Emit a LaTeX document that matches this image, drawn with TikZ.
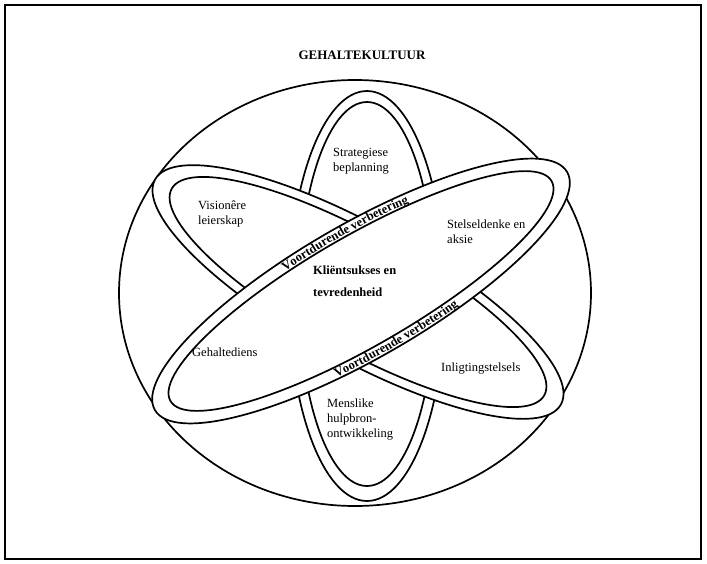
\documentclass[tikz,border=0pt]{standalone}
\usepackage{fontspec}
\setmainfont{Liberation Serif}
\usetikzlibrary{decorations.text}

\newcommand\labelfont{\fontsize{12.5}{15}\selectfont}
\newcommand\titlefont{\fontsize{13}{15}\selectfont\bfseries}
\newcommand\bandfont{\fontsize{12.6}{15}\selectfont\bfseries}

\tikzset{
  ring/.style={draw=black, line width=1.7pt, fill=white},
  frameline/.style={draw=black, line width=1.3pt},
  lbl/.style={font=\labelfont, align=left, inner sep=0pt, anchor=west},
}

\begin{document}
\begin{tikzpicture}[x=1pt, y=1pt]
  \useasboundingbox (0,0) rectangle (707,-563);

  % outer frame
  \draw[frameline] (5,-5) rectangle (701,-559);

  % title
  \node[font=\titlefont, inner sep=0pt] (title) at (362,-55) {GEHALTEKULTUUR};

  % enclosing oval
  \coordinate (oc) at (355,-293);
  \draw[line width=1.7pt] (oc) ellipse [x radius=236pt, y radius=213pt];

  % vertical ring
  \coordinate (vc) at (367,-296);
  \coordinate (vci) at (367,-294);
  \draw[ring] (vc) ellipse [x radius=78pt, y radius=205pt];
  \draw[ring] (vci) ellipse [x radius=68pt, y radius=192pt];

  % ring falling to the right
  \coordinate (ac) at (358,-292);
  \begin{scope}[shift={(ac)}, rotate=-29]
    \draw[ring] (0,0) ellipse [x radius=232pt, y radius=67pt];
    \draw[ring] (0,0) ellipse [x radius=213pt, y radius=58pt];
  \end{scope}

  % ring rising to the right, with its lettering
  \coordinate (bc) at (361,-291);
  \begin{scope}[shift={(bc)}, rotate=30]
    \draw[ring] (0,0) ellipse [x radius=238pt, y radius=67pt];
    \draw[ring] (0,0) ellipse [x radius=220pt, y radius=55pt];
    \path[decorate, decoration={text along path, text align=center,
        text={|\bandfont|Voortdurende verbetering}}]
      (125:220pt and 57pt) arc[start angle=125, end angle=45, x radius=220pt, y radius=57pt];
    \path[decorate, decoration={text along path, text align=center,
        text={|\bandfont|Voortdurende verbetering}}]
      (232:234pt and 65pt) arc[start angle=232, end angle=312, x radius=234pt, y radius=65pt];
  \end{scope}

  % labels
  \node[lbl] (strat) at (333,-161) {Strategiese\\beplanning};
  \node[lbl] (vis) at (198,-214) {Visionêre\\leierskap};
  \node[lbl] (stel) at (447,-232) {Stelseldenke en\\aksie};
  \node[lbl, font=\labelfont\bfseries, align=left] (klient) at (313,-281)
    {Kliëntsukses en\\[7pt]tevredenheid};
  \node[lbl] (geh) at (192,-352) {Gehaltediens};
  \node[lbl] (inl) at (441,-369) {Inligtingstelsels};
  \node[lbl] (mens) at (327,-420) {Menslike\\hulpbron-\\ontwikkeling};
\end{tikzpicture}
\end{document}
